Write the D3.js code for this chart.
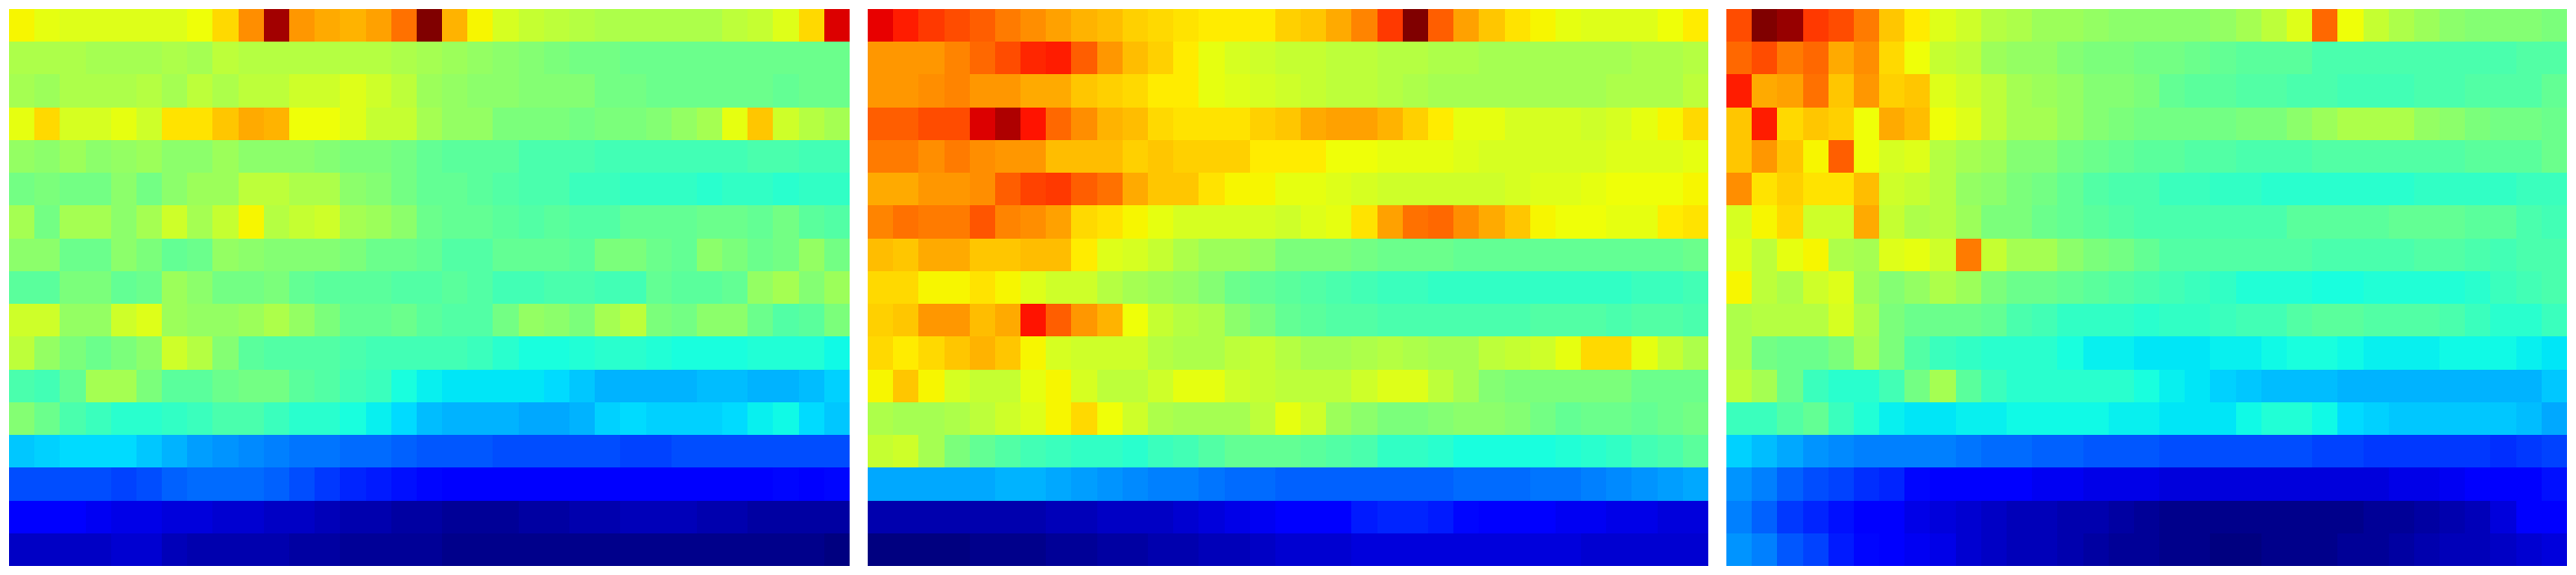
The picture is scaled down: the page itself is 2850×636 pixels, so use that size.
<!DOCTYPE html>
<html>
<head>
<meta charset="utf-8">
<style>html,body{margin:0;padding:0;background:#fff}svg{display:block}</style>
<script src="https://cdnjs.cloudflare.com/ajax/libs/d3/7.8.5/d3.min.js"></script>
</head>
<body>
<svg id="chart" width="2850" height="636"></svg>
<script>
const panelA = [
[65,63,62,62,62,62,62,64,68,76,97,75,73,72,74,79,100,72,65,61,59,58,57,56,56,56,56,56,58,59,62,68,92],
[56,56,56,55,55,55,56,55,58,57,57,57,57,57,57,56,55,54,53,52,51,50,49,49,48,48,48,48,48,48,48,48,48],
[55,54,56,56,56,57,55,58,56,58,58,60,60,62,60,58,54,53,52,52,51,51,51,49,49,48,48,48,48,48,47,48,48],
[63,68,61,61,63,60,67,67,70,73,72,64,64,62,59,59,55,53,53,50,50,50,49,50,50,51,53,55,63,70,60,57,55],
[53,52,54,52,53,54,52,52,54,52,52,52,51,50,50,49,47,46,46,46,44,44,44,43,43,43,43,43,43,44,44,43,43],
[49,50,49,49,52,49,52,54,54,58,58,56,56,52,51,49,47,47,46,45,44,44,42,42,41,41,41,40,41,41,40,41,41],
[55,49,55,55,52,55,60,55,59,65,57,59,60,55,54,52,48,47,47,46,45,46,45,45,47,47,47,48,48,47,49,46,45],
[52,52,48,48,52,50,47,48,53,52,51,51,51,50,48,48,47,45,45,47,47,47,46,50,50,48,47,52,50,48,49,53,49],
[46,46,50,50,47,48,54,52,49,49,50,47,46,46,46,45,45,46,45,43,43,44,44,43,43,47,46,46,47,53,55,51,54],
[60,60,53,53,60,62,54,53,53,54,56,53,50,47,47,48,46,45,45,49,53,52,50,55,58,50,49,52,52,48,45,46,50],
[58,53,50,48,50,52,60,57,51,46,45,45,45,44,43,43,43,43,42,40,38,38,39,40,40,39,38,38,38,39,39,39,37],
[44,43,47,55,55,50,46,46,48,49,49,46,45,43,42,38,36,35,35,35,35,34,32,30,30,30,30,31,31,30,30,31,33],
[51,48,44,42,40,40,41,42,44,44,42,40,40,38,36,34,31,30,30,30,29,29,30,33,34,33,33,33,34,36,37,34,32],
[32,33,34,34,34,32,30,28,27,26,25,24,24,23,23,22,21,21,21,20,20,20,20,20,19,19,20,20,20,20,20,20,20],
[20,20,20,20,19,20,22,23,23,23,22,20,18,16,15,14,13,12,12,12,12,12,12,12,12,12,12,12,12,12,13,12,13],
[12,12,12,10,9,9,8,8,7,7,6,6,5,4,4,3,3,2,2,2,3,3,4,4,5,5,5,4,4,3,3,3,3],
[6,6,6,6,7,7,5,4,4,4,4,3,3,2,2,2,2,1,1,1,1,1,1,1,1,1,1,1,1,1,1,1,0]
];
const panelB = [
[91,88,85,83,81,78,76,74,72,71,69,68,67,66,66,66,69,70,73,77,85,100,81,74,70,67,65,63,62,62,62,64,66],
[75,75,75,77,80,83,87,88,81,75,71,69,66,63,61,60,59,59,58,58,57,57,56,56,55,55,55,55,55,55,56,56,57],
[75,75,76,77,75,75,73,73,70,69,68,66,66,63,62,61,60,59,58,58,57,56,55,55,55,55,55,55,55,56,56,56,58],
[81,81,83,83,92,96,89,80,76,72,71,68,67,67,67,69,70,73,74,74,72,69,66,63,63,61,61,61,60,61,63,65,68],
[78,78,76,78,76,75,75,71,71,71,69,70,69,69,69,66,66,66,64,64,63,63,63,62,61,61,61,61,61,62,62,62,63],
[73,73,75,75,76,81,84,85,81,79,73,70,70,67,65,65,63,63,62,61,60,60,60,60,60,61,62,62,63,64,64,64,65],
[77,79,78,78,82,77,76,74,68,67,65,63,61,61,61,61,60,62,63,67,74,79,80,76,73,70,65,64,64,63,63,66,67],
[71,70,73,73,70,70,71,71,66,62,61,59,56,54,54,53,50,50,50,49,48,48,48,47,47,47,47,47,47,47,47,47,48],
[68,68,65,65,67,65,62,60,60,57,55,54,53,51,48,47,46,45,44,43,42,42,41,41,41,41,41,41,41,41,42,42,43],
[69,70,75,75,71,73,89,81,75,72,64,59,57,56,52,50,47,46,45,45,44,44,44,44,44,44,45,45,45,44,45,45,44],
[68,66,68,70,72,70,65,61,60,60,60,57,56,56,58,59,57,55,55,56,57,56,55,55,58,59,60,63,68,68,63,59,56],
[65,70,65,61,59,59,63,65,61,58,58,60,63,63,60,59,58,58,58,60,62,62,58,55,51,50,50,50,50,50,48,48,48],
[56,55,55,56,58,60,62,65,68,64,60,56,55,55,55,58,63,60,54,52,50,50,51,52,52,51,49,47,48,48,47,48,49],
[59,60,55,50,47,45,43,42,41,41,40,42,43,45,47,47,47,46,45,44,41,41,40,38,38,38,38,39,40,41,43,44,46],
[29,29,29,29,29,30,30,29,28,27,26,25,25,24,23,23,22,22,22,22,22,22,22,23,23,23,24,24,25,26,27,28,29],
[4,4,4,4,4,4,4,5,5,6,6,6,7,8,9,10,12,12,12,15,16,16,15,13,12,12,11,10,10,9,9,8,8],
[0,0,0,0,1,1,1,2,2,3,3,4,4,5,5,6,7,7,7,8,8,8,8,8,8,8,8,8,7,7,7,7,7]
];
const panelC = [
[83,100,98,85,83,78,70,66,62,60,57,56,54,54,53,52,52,52,52,53,55,58,62,80,64,59,56,54,52,51,51,51,50],
[80,83,78,80,73,76,68,64,59,58,54,53,53,51,50,50,49,49,48,47,46,46,46,44,44,44,44,44,44,44,44,45,45],
[88,73,74,79,70,75,69,70,62,60,58,55,54,53,51,51,50,47,46,46,45,45,44,44,43,43,43,44,44,45,45,45,47],
[70,88,68,70,69,64,73,71,64,62,58,55,55,53,51,50,49,49,49,49,50,50,52,54,56,56,56,53,52,50,49,49,48],
[70,75,70,65,81,64,61,62,57,55,54,51,51,49,48,47,46,46,45,45,44,44,44,45,45,45,45,45,45,46,46,46,48],
[76,67,69,67,67,71,60,59,57,53,52,50,49,47,45,44,44,42,42,41,41,40,40,40,40,40,40,41,41,41,41,42,42],
[61,65,68,60,60,73,59,56,57,54,50,50,48,47,46,45,44,44,44,44,44,44,46,46,46,46,47,47,47,46,46,44,43],
[62,58,63,65,56,55,62,63,60,78,59,55,55,52,50,49,47,45,45,45,45,45,45,44,44,44,44,45,45,44,43,44,44],
[65,58,56,60,62,54,51,53,56,54,50,48,48,47,46,45,44,43,42,41,39,39,39,38,38,39,39,39,39,40,42,43,44],
[56,57,57,57,61,56,50,48,48,48,47,44,43,41,41,41,40,41,41,42,43,43,45,46,46,45,45,45,44,42,40,40,42],
[56,49,48,48,50,55,50,45,42,41,40,40,40,38,36,36,35,35,35,36,36,37,38,38,37,36,36,36,37,37,37,36,35],
[58,55,48,42,40,40,43,49,55,46,42,40,40,40,40,40,38,36,35,33,32,31,31,31,30,30,30,30,30,30,30,30,32],
[42,42,45,47,42,39,36,35,35,36,36,37,37,37,37,36,36,35,35,35,37,39,39,37,34,33,32,32,32,32,32,31,29],
[33,31,29,27,26,25,25,25,25,24,23,23,22,22,21,21,21,20,20,20,20,20,20,19,19,18,18,18,18,18,17,18,19],
[27,25,22,20,19,17,16,13,12,11,11,11,10,10,9,9,9,8,8,8,8,8,8,8,8,8,9,9,10,11,11,11,14],
[25,22,18,16,14,12,12,9,8,7,6,5,5,4,4,3,2,1,1,1,1,1,1,1,1,2,2,3,4,5,8,12,12],
[27,25,21,19,15,13,12,10,9,7,6,5,5,4,3,2,2,1,1,0,0,1,1,1,2,2,3,4,5,5,6,7,8]
];
const panelLefts = [10, 960, 1910];
const panels = [panelA, panelB, panelC];

const W = 930, H = 616, TOP = 10;
const rows = d3.range(panelA.length);
const cols = d3.range(panelA[0].length);
const x = d3.scaleBand().domain(cols).range([0, W]);
const y = d3.scaleBand().domain(rows).range([0, H]);

// matplotlib "jet" channel breakpoints, on a 0–100 value domain
const red   = d3.scaleLinear().domain([0,35,66,89,100]).range([0,0,1,1,.5]);
const green = d3.scaleLinear().domain([0,12.5,37.5,64,91,100]).range([0,0,1,1,0,0]);
const blue  = d3.scaleLinear().domain([0,11,34,65,100]).range([.5,1,1,0,0]);
const jet = v => d3.rgb(red(v)*255, green(v)*255, blue(v)*255).formatHex();

const svg = d3.select("#chart");
const g = svg.selectAll("g.panel").data(panels).join("g")
  .attr("class","panel")
  .attr("transform",(d,i)=>`translate(${panelLefts[i]},${TOP})`);
g.selectAll("g.row").data(d=>d).join("g")
  .attr("class","row")
  .attr("transform",(d,i)=>`translate(0,${y(i)})`)
  .selectAll("rect").data(d=>d).join("rect")
  .attr("x",(d,i)=>x(i))
  .attr("width",x.bandwidth())
  .attr("height",y.bandwidth())
  .attr("shape-rendering","crispEdges")
  .attr("fill",d=>jet(d));
</script>
</body>
</html>
